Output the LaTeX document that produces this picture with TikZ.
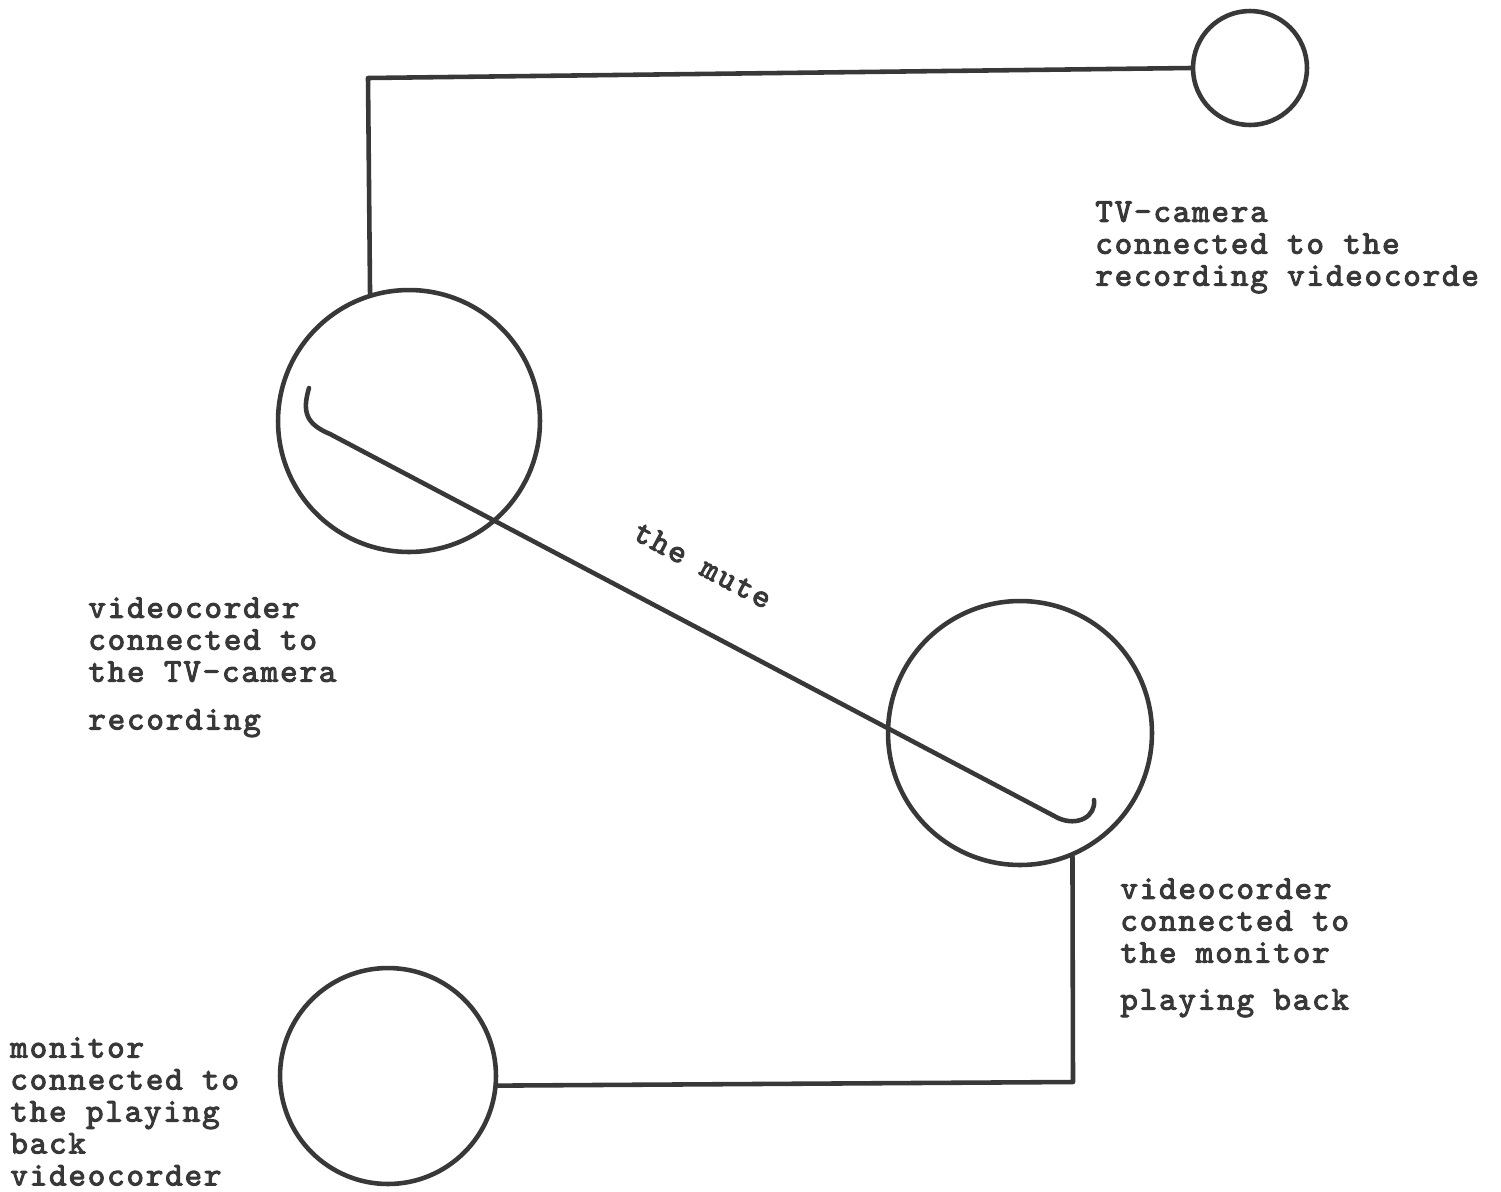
\documentclass[tikz,border=0pt]{standalone}
\usepackage{fontspec}
\newfontfamily\typefont{lmmono10-regular.otf}[FakeBold=3, LetterSpace=5.5]
\usepackage{tikz}
\usetikzlibrary{positioning}
\definecolor{inkgray}{HTML}{383838}

\begin{document}
\begin{tikzpicture}[
        x=0.02cm, y=-0.02cm,
        deck/.style={
            circle,
            draw=inkgray,
            line width=2.6pt,
            inner sep=0pt
        },
        cable/.style={line width=2.6pt, draw=inkgray, line cap=round, line join=round},
        caption/.style={align=left, anchor=north west, inner sep=0pt, text=inkgray,
            font=\fontsize{19pt}{18.2pt}\typefont}
    ]
        \useasboundingbox (0,0) rectangle (1501,1191);

        \node[deck, minimum size=2.28cm] (camera) at (1250,68) {};
        \node[deck, minimum size=5.24cm] (recorder) at (409,421) {};
        \node[deck, minimum size=5.28cm] (player) at (1020,733) {};
        \node[deck, minimum size=4.32cm] (monitor) at (388,1076) {};

        \coordinate (topbend) at (368,78);
        \coordinate (lowbend) at (1073,1082);
        \draw[cable] (camera.west) -- (topbend) -- (recorder.107);
        \draw[cable] (player.-67) -- (lowbend) -- (monitor.-5);

        \draw[cable] (309,388) .. controls (302,412) and (306,424) .. (330,434)
            -- (1058,818) .. controls (1078,827) and (1096,816) .. (1094,800);
        \node[caption, anchor=center, rotate=-28] (mute) at (703,565) {the mute};

        \node[caption] (camlabel) at (1095,201) {TV-camera\\connected to the\\recording videocorde};
        \node[caption] (reclabel) at (88,597) {videocorder\\connected to\\the TV-camera\\[9pt]recording};
        \node[caption] (playlabel) at (1120,878) {videocorder\\connected to\\the monitor\\[8.5pt]playing back};
        \node[caption] (monlabel) at (10,1037) {monitor\\connected to\\the playing\\back\\videocorder};
    \end{tikzpicture}
\end{document}
